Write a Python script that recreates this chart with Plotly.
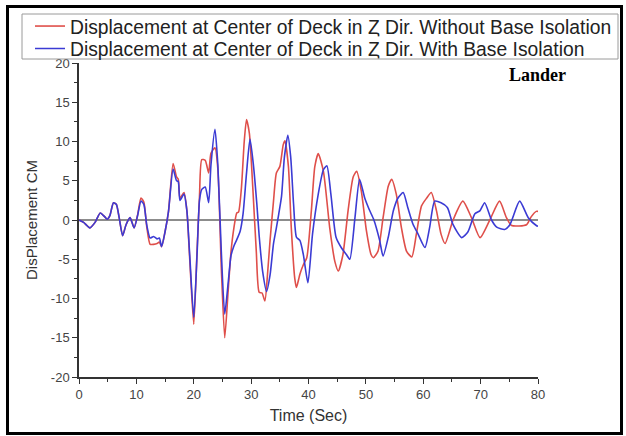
import plotly.graph_objects as go

# ---- data ----
t_without = [0, 0.8, 1.9, 2.8, 3.7, 4.5, 4.9, 5.4, 6.0, 6.5, 7.0, 7.6, 8.2, 8.9, 9.6, 10.2, 10.8, 11.3, 11.8,
             12.4, 13.0, 13.6, 14.0, 14.4, 15.0, 15.6, 16.4, 17.0, 17.3, 17.6, 18.3, 18.8, 19.3, 20.0, 20.6,
             21.0, 21.4, 22.0, 22.6, 23.0, 23.7, 24.2, 24.8, 25.4, 26.0, 26.5, 27.0, 27.5, 27.8, 28.3, 28.8,
             29.2, 29.7, 30.3, 30.9, 31.4, 31.9, 32.4, 32.9, 33.3, 33.9, 34.4, 35.0, 35.6, 35.9, 36.5, 37.0,
             37.6, 37.9, 38.5, 39.1, 39.7, 40.5, 41.1, 41.7, 42.6, 43.7, 44.6, 45.2, 46.0, 46.9, 47.8, 48.4,
             49.2, 50.1, 50.9, 51.3, 52.1, 53.0, 53.9, 54.5, 55.3, 56.2, 57.1, 58.0, 58.8, 59.7, 60.6, 61.4,
             62.3, 63.1, 63.8, 65.2, 66.9, 68.4, 69.9, 71.6, 73.3, 74.5, 75.4, 78.0, 78.8, 79.7, 80]
d_without = [0, -0.3, -1.0, -0.3, 0.9, 0.4, 0.1, 0.6, 2.2, 2.0, 0.3, -2.0, -0.6, 0.3, -1.0, 0.6, 2.8, 2.3, -0.8,
             -3.1, -3.1, -3.0, -2.8, -3.4, -1.5, 1.1, 7.2, 5.5, 5.2, 2.8, 3.5, 1.2, -5.0, -13.3, -3.5,
             3.0, 7.7, 7.6, 6.0, 8.5, 9.2, 6.5, -6.0, -15.0, -9.0, -4.0, -1.0, 0.9, 1.0, 4.0, 10.0,
             12.8, 11.0, 4.0, -4.0, -9.2, -9.3, -10.3, -6.5, -2.6, 2.4, 6.0, 6.8, 9.6, 10.1, 6.8, -1.0,
             -7.4, -8.6, -6.9, -5.7, -4.8, 1.2, 6.8, 8.45, 6.2, -1.0, -5.3, -6.5, -4.4, 1.2, 5.5, 6.2,
             3.7, -1.4, -4.4, -4.8, -4.0, 0.3, 4.3, 5.2, 3.3, -1.0, -4.0, -4.7, -1.8, 1.8, 2.8, 3.5,
             1.2, -1.8, -3.0, 0.0, 2.4, 0.3, -2.25, 0.0, 2.4, 0.3, -0.7, -0.6, 0.4, 1.1, 1.1]

t_with = [0, 0.8, 1.9, 2.8, 3.7, 4.5, 4.9, 5.4, 6.0, 6.5, 7.0, 7.6, 8.2, 8.9, 9.6, 10.2, 10.8, 11.3, 11.8,
          12.4, 13.0, 13.6, 14.0, 14.4, 15.0, 15.6, 16.4, 17.0, 17.3, 17.6, 18.3, 18.8, 19.3, 20.0, 20.6,
          21.0, 21.4, 22.0, 22.6, 23.0, 23.7, 24.2, 24.8, 25.4, 26.0, 26.5, 27.0, 27.5, 28.1, 28.6, 29.2,
          29.8, 30.4, 31.0, 31.4, 32.0, 32.7, 33.3, 33.9, 34.4, 34.8, 35.3, 35.8, 36.4, 36.9, 37.4, 37.9,
          38.5, 39.1, 39.9, 40.7, 41.7, 42.6, 43.2, 43.9, 44.8, 45.7, 46.6, 47.2, 48.1, 48.9, 49.8, 50.6,
          51.4, 52.4, 53.0, 53.9, 54.8, 55.6, 56.5, 57.3, 58.2, 59.1, 60.3, 61.1, 62.0, 63.1, 64.2, 65.2,
          66.7, 67.8, 69.0, 69.9, 70.7, 71.9, 72.8, 74.2, 75.1, 76.8, 78.3, 79.7, 80]
d_with = [0, -0.3, -1.0, -0.3, 0.9, 0.4, 0.1, 0.6, 2.2, 2.0, 0.3, -2.0, -0.6, 0.3, -1.0, 0.5, 2.4, 2.0, -0.6,
          -2.3, -2.1, -2.4, -2.3, -3.4, -1.5, 1.1, 6.5, 5.0, 4.9, 2.5, 3.3, 1.2, -4.5, -12.4, -4.0,
          2.5, 3.9, 4.2, 2.2, 7.0, 11.55, 7.0, -4.0, -12.0, -8.0, -4.5, -3.3, -2.5, -1.4, 0.8, 6.0,
          10.3, 7.0, 2.0, -2.0, -6.5, -9.1, -7.0, -3.0, -1.0, 0.7, 3.0, 8.0, 10.8, 8.0, 2.0, -2.2,
          -2.6, -4.4, -8.0, -1.8, 3.3, 6.4, 6.9, 3.3, -2.2, -3.5, -4.4, -5.0, 0.3, 5.2, 2.8, 1.3,
          0.0, -2.6, -4.6, -2.2, 1.2, 2.8, 3.5, 1.6, -0.5, -1.8, -3.5, -1.0, 2.4, 2.2, 1.6, -0.6,
          -2.25, -1.5, 0.8, 1.2, 2.2, 0.0, -0.9, -1.2, -0.6, 2.4, 0.3, -0.7, -0.8]

name_without = "Displacement at Center of Deck in Ȥ Dir. Without Base Isolation"
name_with = "Displacement at Center of Deck in Ȥ Dir. With Base Isolation"

x_ticks = [0, 10, 20, 30, 40, 50, 60, 70, 80]
x_tick_labels = ["0", "10", "20", "30", "40", "50", "60", "70", "80"]
y_ticks = [-20, -15, -10, -5, 0, 5, 10, 15, 20]
y_tick_labels = ["-20", "-15", "-10", "-5", "0", "5", "10", "15", "20"]

RED = "#df4f4a"
BLUE = "#3b3bd4"
SANS = "Liberation Sans, Arial, sans-serif"

fig = go.Figure()
fig.add_trace(go.Scatter(x=t_without, y=d_without, mode="lines", name=name_without, legend="legend",
                         line=dict(color=RED, width=1.6, shape="spline", smoothing=0.6)))
fig.add_trace(go.Scatter(x=t_with, y=d_with, mode="lines", name=name_with, legend="legend2",
                         line=dict(color=BLUE, width=1.6, shape="spline", smoothing=0.6)))

# plot area in pixels: x 79..538, y 63..377
L, R, T, B = 79, 88, 63, 59
W, H = 626, 436
pw, ph = W - L - R, H - T - B


def px(x):
    return (x - L) / pw


def py(y):
    return (H - B - y) / ph


legend_style = dict(xanchor="left", yanchor="top", bgcolor="rgba(0,0,0,0)", borderwidth=0,
                    font=dict(family=SANS, size=19.3, color="#222"), itemwidth=30)

fig.update_layout(
    width=W, height=H,
    margin=dict(l=L, r=R, t=T, b=B, autoexpand=False),
    paper_bgcolor="white", plot_bgcolor="white",
    font=dict(family=SANS, color="#333"),
    showlegend=True,
    legend=dict(x=px(30), y=py(7), **legend_style),
    legend2=dict(x=px(30), y=py(29.5), **legend_style),
    xaxis=dict(range=[0, 80], tickvals=x_ticks, ticktext=x_tick_labels, ticks="outside", ticklen=5,
               tickwidth=1.3, tickcolor="#333", showline=True, linecolor="#333", linewidth=1.5,
               showgrid=False, zeroline=False, tickfont=dict(size=13, color="#444"),
               minor=dict(dtick=5, ticks="outside", ticklen=3, tickcolor="#333", showgrid=False),
               title=dict(text="Time (Sec)", font=dict(size=16, color="#333"), standoff=8)),
    yaxis=dict(range=[-20, 20], tickvals=y_ticks, ticktext=y_tick_labels, ticks="outside", ticklen=5,
               tickwidth=1.3, tickcolor="#333", showline=True, linecolor="#333", linewidth=1.5,
               showgrid=False, zeroline=True, zerolinecolor="#8c8c8c", zerolinewidth=1.5,
               tickfont=dict(size=13, color="#444"),
               minor=dict(dtick=2.5, ticks="outside", ticklen=3, tickcolor="#333", showgrid=False),
               title=dict(text="DisPlacement CM", font=dict(size=15, color="#333"), standoff=10)),
    annotations=[dict(text="<b>Lander</b>", x=px(537), y=py(75), xref="paper", yref="paper",
                      showarrow=False, xanchor="center", yanchor="middle",
                      font=dict(family="Liberation Serif, Times New Roman, serif", size=18, color="black"))],
    shapes=[
        # legend box (white, clips the top tick label like the reference)
        dict(type="rect", xref="paper", yref="paper",
             x0=px(22), x1=px(618), y0=py(59), y1=py(14),
             line=dict(color="#9a9a9a", width=1), fillcolor="white", layer="above"),
        # outer black frame
        dict(type="rect", xref="paper", yref="paper",
             x0=px(7.5), x1=px(621.5), y0=py(433.5), y1=py(6.5),
             line=dict(color="black", width=3), fillcolor="rgba(0,0,0,0)", layer="above"),
    ],
)

fig.write_html("out.html")
